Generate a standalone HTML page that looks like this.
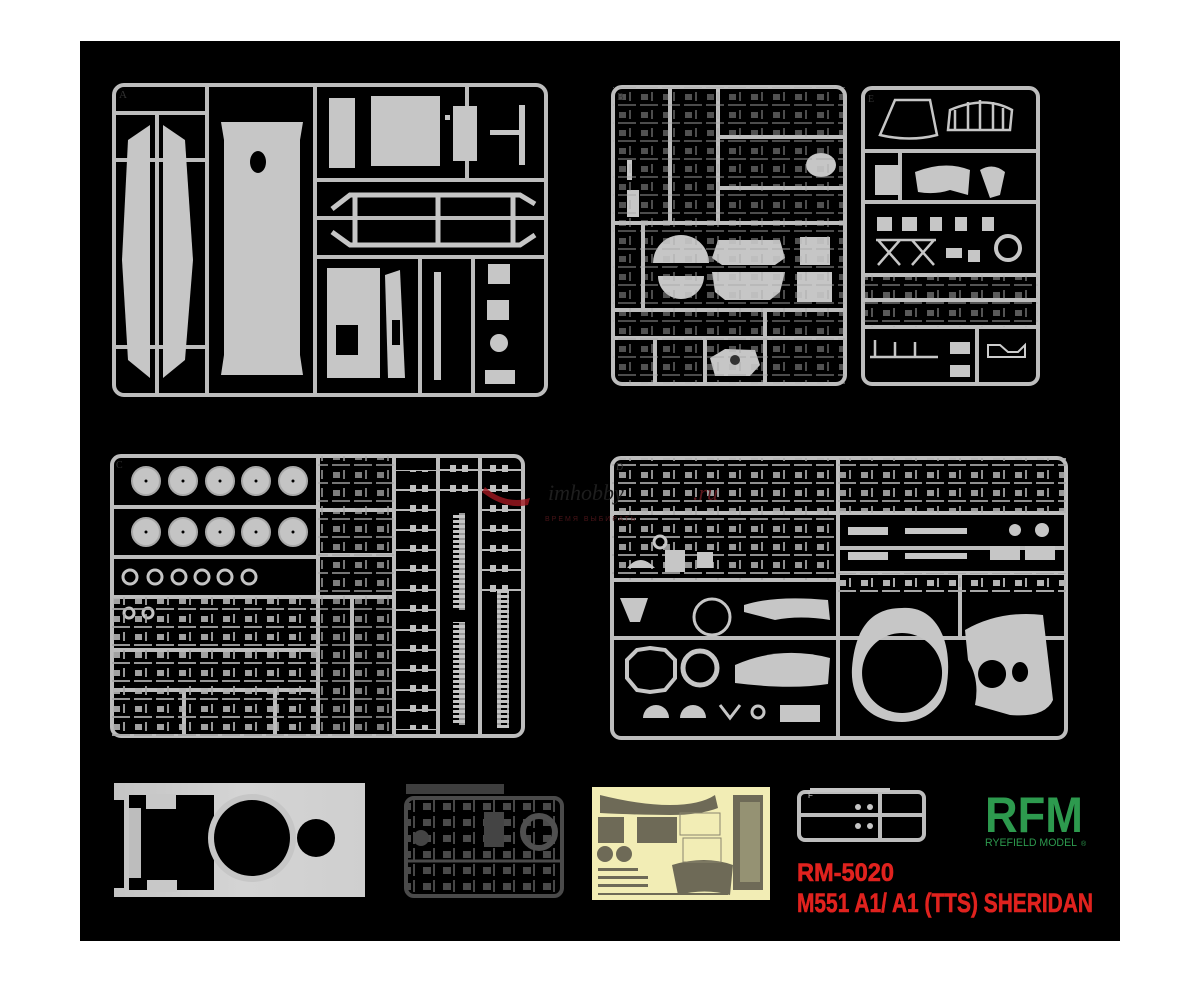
<!DOCTYPE html>
<html><head><meta charset="utf-8"><style>
html,body{margin:0;padding:0;background:#fff;}
svg{display:block;}
</style></head><body>
<svg width="1200" height="982" viewBox="0 0 1200 982" xmlns="http://www.w3.org/2000/svg">
<defs>
<pattern id="bits" width="22" height="18" patternUnits="userSpaceOnUse">
<rect x="3" y="4" width="7" height="6" fill="#b4b4b4"/><rect x="13" y="2" width="2" height="9" fill="#a8a8a8"/><rect x="2" y="14" width="18" height="2" fill="#a8a8a8"/>
</pattern>
<pattern id="ladder" width="40" height="20" patternUnits="userSpaceOnUse">
<rect x="0" y="9" width="40" height="2" fill="#b8b8b8"/><rect x="10" y="5" width="6" height="7" fill="#c0c0c0"/><rect x="22" y="5" width="6" height="7" fill="#c0c0c0"/>
</pattern>
<pattern id="track" width="12" height="5" patternUnits="userSpaceOnUse">
<rect x="0" y="0" width="12" height="3" fill="#c4c4c4"/><rect x="3" y="3" width="6" height="2" fill="#9a9a9a"/>
</pattern>
<pattern id="dbits" width="20" height="16" patternUnits="userSpaceOnUse">
<rect x="3" y="3" width="8" height="7" fill="#4a4a4a"/><rect x="13" y="0" width="2" height="12" fill="#474747"/>
</pattern>
</defs>
<rect x="80" y="41" width="1040" height="900" fill="#000"/>

<g fill="none" stroke="#bdbdbd" stroke-width="4">
<rect x="114" y="85" width="432" height="310" rx="10"/>
<line x1="207" y1="85" x2="207" y2="395"/><line x1="315" y1="85" x2="315" y2="395"/>
<line x1="315" y1="180" x2="546" y2="180"/><line x1="315" y1="257" x2="546" y2="257"/>
<line x1="420" y1="257" x2="420" y2="395"/><line x1="473" y1="257" x2="473" y2="395"/>
<line x1="467" y1="85" x2="467" y2="180"/>
<line x1="114" y1="113" x2="207" y2="113"/><line x1="114" y1="160" x2="207" y2="160"/><line x1="114" y1="347" x2="207" y2="347"/>
<line x1="157" y1="113" x2="157" y2="395"/>
<line x1="315" y1="218" x2="546" y2="218"/>
<rect x="613" y="87" width="232" height="297" rx="9"/>
<line x1="613" y1="223" x2="845" y2="223"/><line x1="613" y1="310" x2="845" y2="310"/><line x1="613" y1="338" x2="845" y2="338"/>
<line x1="670" y1="87" x2="670" y2="223"/><line x1="718" y1="87" x2="718" y2="223"/>
<line x1="718" y1="137" x2="845" y2="137"/><line x1="718" y1="188" x2="845" y2="188"/>
<line x1="643" y1="223" x2="643" y2="310"/><line x1="765" y1="310" x2="765" y2="384"/><line x1="705" y1="338" x2="705" y2="384"/>
<line x1="655" y1="338" x2="655" y2="384"/>
<rect x="863" y="88" width="175" height="296" rx="9"/>
<line x1="863" y1="151" x2="1038" y2="151"/><line x1="863" y1="202" x2="1038" y2="202"/><line x1="863" y1="275" x2="1038" y2="275"/><line x1="863" y1="327" x2="1038" y2="327"/>
<line x1="977" y1="327" x2="977" y2="384"/><line x1="900" y1="151" x2="900" y2="202"/>
<line x1="863" y1="300" x2="1038" y2="300"/>
<rect x="112" y="456" width="411" height="280" rx="9"/>
<line x1="112" y1="507" x2="318" y2="507"/><line x1="112" y1="557" x2="318" y2="557"/><line x1="112" y1="597" x2="318" y2="597"/><line x1="112" y1="650" x2="318" y2="650"/><line x1="112" y1="690" x2="318" y2="690"/>
<line x1="318" y1="456" x2="318" y2="736"/><line x1="352" y1="597" x2="352" y2="736"/><line x1="394" y1="456" x2="394" y2="736"/><line x1="438" y1="456" x2="438" y2="736"/><line x1="480" y1="456" x2="480" y2="736"/>
<line x1="318" y1="510" x2="394" y2="510"/><line x1="318" y1="555" x2="394" y2="555"/><line x1="318" y1="597" x2="394" y2="597"/>
<line x1="184" y1="690" x2="184" y2="736"/><line x1="275" y1="690" x2="275" y2="736"/>
<rect x="612" y="458" width="454" height="280" rx="9"/>
<line x1="838" y1="458" x2="838" y2="738"/>
<line x1="612" y1="513" x2="1066" y2="513"/><line x1="612" y1="580" x2="838" y2="580"/><line x1="612" y1="638" x2="1066" y2="638"/>
<line x1="838" y1="573" x2="1066" y2="573"/><line x1="960" y1="573" x2="960" y2="638"/>
<line x1="838" y1="548" x2="1066" y2="548"/>
<rect x="799" y="792" width="125" height="48" rx="6"/>
<line x1="799" y1="815" x2="924" y2="815"/><line x1="880" y1="792" x2="880" y2="840"/>
</g>

<g fill="#c6c6c6">
<polygon points="128,140 150,125 150,378 128,360 122,260"/>
<polygon points="163,125 185,140 193,260 185,360 163,378"/>
<path d="M221,122 H303 L300,140 V355 L303,375 H221 L224,355 V140 Z"/>
<rect x="329" y="98" width="26" height="70"/>
<rect x="371" y="96" width="69" height="70"/>
<rect x="453" y="106" width="24" height="55"/>
<rect x="445" y="115" width="5" height="5"/>
<rect x="327" y="268" width="53" height="110"/>
<polygon points="385,275 400,270 405,378 388,378"/>
<rect x="434" y="272" width="7" height="108"/>
<rect x="488" y="264" width="22" height="20"/><rect x="487" y="300" width="22" height="20"/>
<circle cx="499" cy="343" r="9"/><rect x="485" y="370" width="30" height="14"/>
<rect x="519" y="105" width="6" height="60"/><rect x="490" y="130" width="30" height="5"/>
</g>
<g fill="#000">
<ellipse cx="258" cy="162" rx="8" ry="11"/>
<rect x="336" y="325" width="22" height="30"/><rect x="392" y="320" width="8" height="25"/>
</g>
<g fill="none" stroke="#c6c6c6" stroke-width="5">
<path d="M332,209 L350,195 H520 L535,204"/><path d="M332,232 L350,245 H520 L535,235"/>
<line x1="355" y1="195" x2="355" y2="245"/><line x1="438" y1="195" x2="438" y2="245"/><line x1="513" y1="195" x2="513" y2="245"/>
</g>
<text x="119" y="98" font-family="Liberation Serif, serif" font-size="11" fill="#333">A</text>

<g fill="#c6c6c6">
<path d="M653,263 A28,28 0 0 1 709,263 Z"/>
<path d="M658,276 H704 A23,23 0 0 1 658,276 Z"/>
<polygon points="718,240 780,240 785,258 775,265 722,265 712,258"/>
<polygon points="712,272 785,272 780,292 770,300 725,300 715,292"/>
<rect x="800" y="237" width="30" height="28"/><rect x="797" y="272" width="35" height="30"/>
<polygon points="710,358 725,349 755,350 760,365 750,376 715,376"/>
<ellipse cx="821" cy="165" rx="15" ry="12"/>
<rect x="627" y="190" width="12" height="27"/><rect x="627" y="160" width="5" height="20"/>
</g>
<rect x="613" y="87" width="232" height="297" fill="url(#bits)" opacity="0.45"/>
<circle cx="681" cy="269" r="4" fill="#000"/><circle cx="735" cy="360" r="5" fill="#333"/>

<g fill="none" stroke="#c6c6c6" stroke-width="2.5">
<path d="M880,135 L895,100 H930 L937,135 Q910,142 880,135 Z"/>
<path d="M948,130 L950,110 Q985,95 1012,110 L1010,130 Z"/>
<path d="M955,130 V110 M968,130 V102 M980,130 V100 M993,130 V102 M1003,130 V108"/>
<path d="M878,240 L900,265 M900,240 L878,265 M912,240 L934,265 M934,240 L912,265 M876,240 H936"/>
<circle cx="1008" cy="248" r="12" stroke-width="4"/>
<path d="M870,357 H938 M875,357 V340 M895,357 V342 M915,357 V342"/>
</g>
<g fill="#c6c6c6">
<rect x="875" y="165" width="25" height="30"/>
<path d="M915,172 Q945,160 970,170 L968,195 L950,190 Q935,195 918,192 Z"/>
<path d="M980,170 Q993,162 1005,172 L1000,195 L990,198 Z"/>
<rect x="877" y="217" width="15" height="14"/><rect x="902" y="217" width="15" height="14"/><rect x="930" y="217" width="12" height="14"/><rect x="955" y="217" width="12" height="14"/>
<rect x="982" y="217" width="12" height="14"/>
<rect x="968" y="250" width="12" height="12"/><rect x="946" y="248" width="16" height="10"/>
<rect x="950" y="342" width="20" height="12"/><rect x="950" y="365" width="20" height="12"/>
</g>
<rect x="863" y="275" width="175" height="52" fill="url(#bits)" opacity="0.5"/>
<path d="M988,345 H1000 L1008,352 H1018 L1025,345 V357 H988 Z" fill="none" stroke="#ccc" stroke-width="2"/>

<g fill="#c4c4c4" stroke="#a9a9a9" stroke-width="2">
<circle cx="146" cy="481" r="14"/><circle cx="183" cy="481" r="14"/><circle cx="220" cy="481" r="14"/><circle cx="256" cy="481" r="14"/><circle cx="293" cy="481" r="14"/>
<circle cx="146" cy="532" r="14"/><circle cx="183" cy="532" r="14"/><circle cx="220" cy="532" r="14"/><circle cx="256" cy="532" r="14"/><circle cx="293" cy="532" r="14"/>
</g>
<g fill="#000"><circle cx="146" cy="481" r="1.5"/><circle cx="183" cy="481" r="1.5"/><circle cx="220" cy="481" r="1.5"/><circle cx="256" cy="481" r="1.5"/><circle cx="293" cy="481" r="1.5"/>
<circle cx="146" cy="532" r="1.5"/><circle cx="183" cy="532" r="1.5"/><circle cx="220" cy="532" r="1.5"/><circle cx="256" cy="532" r="1.5"/><circle cx="293" cy="532" r="1.5"/></g>
<g fill="none" stroke="#c4c4c4" stroke-width="3">
<circle cx="130" cy="577" r="7"/><circle cx="155" cy="577" r="7"/><circle cx="179" cy="577" r="7"/><circle cx="202" cy="577" r="7"/><circle cx="225" cy="577" r="7"/><circle cx="249" cy="577" r="7"/>
<circle cx="129" cy="613" r="5"/><circle cx="148" cy="613" r="5"/>
</g>
<rect x="112" y="597" width="206" height="139" fill="url(#bits)" opacity="0.9"/>
<rect x="318" y="456" width="76" height="280" fill="url(#bits)" opacity="0.7"/>
<rect x="394" y="470" width="44" height="260" fill="url(#ladder)"/>
<rect x="438" y="465" width="42" height="40" fill="url(#ladder)"/>
<rect x="480" y="465" width="43" height="130" fill="url(#ladder)"/>
<rect x="453" y="513" width="12" height="97" fill="url(#track)"/>
<rect x="453" y="622" width="12" height="103" fill="url(#track)"/>
<rect x="497" y="590" width="12" height="138" fill="url(#track)"/>
<text x="116" y="468" font-family="Liberation Serif, serif" font-size="10" fill="#333">C</text>

<rect x="612" y="458" width="226" height="122" fill="url(#bits)" opacity="0.85"/>
<rect x="838" y="458" width="228" height="55" fill="url(#bits)" opacity="0.85"/>
<rect x="838" y="573" width="228" height="20" fill="url(#bits)"/>
<g fill="#c6c6c6">
<rect x="848" y="527" width="40" height="8"/><rect x="905" y="528" width="62" height="6"/>
<rect x="848" y="552" width="40" height="8"/><rect x="905" y="553" width="62" height="6"/>
<rect x="990" y="546" width="30" height="14"/><rect x="1025" y="546" width="30" height="14"/>
<circle cx="1015" cy="530" r="6"/><circle cx="1042" cy="530" r="7"/>
<path d="M627,568 Q640,552 655,568 Z"/><rect x="665" y="550" width="20" height="22"/><rect x="697" y="552" width="16" height="16"/>
<path d="M620,598 H648 L640,622 H630 Z"/>
<path d="M744,605 Q775,595 828,600 L830,620 Q800,615 775,620 L744,612 Z"/>
<path d="M735,665 Q780,645 830,658 L828,684 Q790,690 735,683 Z"/>
<path d="M643,718 A13,13 0 0 1 669,718 Z"/><path d="M680,718 A13,13 0 0 1 706,718 Z"/>
<rect x="780" y="705" width="40" height="17"/>
<path fill-rule="evenodd" d="M902,608 C935,605 955,640 946,690 C940,712 920,722 902,722 C870,722 850,700 852,668 C855,630 870,608 902,608 Z M902,633 A40,40 0 1 0 902.1,633 Z"/>
<path fill-rule="evenodd" d="M965,630 Q1000,610 1043,615 L1053,700 Q1045,718 1010,715 L975,705 Q980,680 968,660 Z M992,660 A14,14 0 1 0 992.1,660 Z M1020,662 A8,10 0 1 0 1020.1,662 Z"/>
</g>
<g fill="none" stroke="#c6c6c6" stroke-width="3">
<circle cx="712" cy="617" r="18"/>
<path d="M650,648 L665,650 L675,660 L675,678 L665,690 L650,692 L637,690 L627,678 L627,660 L637,650 Z" stroke-width="4"/>
<circle cx="700" cy="668" r="17" stroke-width="5"/>
<circle cx="758" cy="712" r="6"/>
<path d="M720,705 L730,718 L740,705"/>
<circle cx="660" cy="542" r="6"/>
</g>
<text x="616" y="470" font-family="Liberation Serif, serif" font-size="10" fill="#333">D</text>
<text x="617" y="100" font-family="Liberation Serif, serif" font-size="10" fill="#333">B</text>
<text x="868" y="102" font-family="Liberation Serif, serif" font-size="10" fill="#333">E</text>

<path d="M485,487 Q505,505 530,498 L528,505 Q505,510 482,492 Z" fill="#a01820" opacity="0.8"/>
<text x="548" y="500" font-family="Liberation Serif, serif" font-style="italic" font-size="22" fill="#1e1e1e">imhobby</text>
<text x="693" y="500" font-family="Liberation Serif, serif" font-style="italic" font-size="22" fill="#5a161b">.ru</text>
<text x="545" y="521" font-family="Liberation Sans, sans-serif" font-size="7" letter-spacing="2" fill="#4a1418">ВРЕМЯ ВЫБИРАТЬ</text>

<!-- Hull -->
<defs><linearGradient id="hg" x1="0" x2="1"><stop offset="0" stop-color="#c4c4c4"/><stop offset="0.5" stop-color="#d4d4d4"/><stop offset="1" stop-color="#cfcfcf"/></linearGradient></defs>
<path d="M114,783 H365 V897 H114 Z" fill="url(#hg)"/>
<rect x="129" y="795" width="85" height="95" fill="#000"/>
<rect x="114" y="800" width="10" height="88" fill="#000"/>
<rect x="146" y="794" width="30" height="15" fill="#c8c8c8"/>
<rect x="147" y="880" width="30" height="12" fill="#c8c8c8"/>
<rect x="129" y="808" width="12" height="70" fill="#bdbdbd"/>
<circle cx="252" cy="838" r="44" fill="#c6c6c6"/>
<circle cx="252" cy="838" r="38" fill="#000"/>
<circle cx="316" cy="838" r="19" fill="#000"/>

<rect x="406" y="784" width="98" height="10" fill="#3e3e3e"/>
<rect x="406" y="798" width="156" height="98" rx="8" fill="none" stroke="#4a4a4a" stroke-width="4"/>
<line x1="406" y1="861" x2="562" y2="861" stroke="#4a4a4a" stroke-width="3"/>
<rect x="406" y="798" width="156" height="98" fill="url(#dbits)"/>
<rect x="484" y="812" width="20" height="35" fill="#444"/>
<circle cx="539" cy="832" r="16" fill="none" stroke="#505050" stroke-width="6"/>
<circle cx="421" cy="838" r="8" fill="#444"/>

<rect x="592" y="787" width="178" height="113" fill="#f2edb5"/>
<g fill="#6e6a57">
<path d="M600,795 Q640,805 670,805 Q700,805 715,795 L718,808 Q700,815 670,815 Q640,815 600,813 Z"/>
<rect x="598" y="817" width="26" height="26"/><rect x="637" y="817" width="40" height="26"/>
<rect x="733" y="795" width="30" height="95"/>
<path d="M672,865 Q705,855 733,865 L730,895 Q705,888 678,895 Z"/>
<circle cx="605" cy="854" r="8"/><circle cx="624" cy="854" r="8"/>
<rect x="598" y="868" width="40" height="3"/><rect x="598" y="876" width="50" height="3"/><rect x="598" y="884" width="50" height="3"/>
<rect x="598" y="893" width="130" height="2"/>
</g>
<rect x="680" y="813" width="40" height="22" fill="none" stroke="#8a856e" stroke-width="1"/>
<rect x="683" y="838" width="38" height="24" fill="none" stroke="#8a856e" stroke-width="1"/>
<rect x="740" y="802" width="20" height="80" fill="#f2edb5" opacity="0.3"/>

<g fill="#c6c6c6"><rect x="810" y="788" width="80" height="4"/><circle cx="858" cy="807" r="3"/><circle cx="870" cy="807" r="3"/><circle cx="858" cy="826" r="3"/><circle cx="870" cy="826" r="3"/></g>
<text x="808" y="798" font-family="Liberation Sans, sans-serif" font-size="8" fill="#ccc">F</text>

<text x="985" y="832" font-family="Liberation Sans, sans-serif" font-weight="bold" font-size="50" fill="#2d9a4e" textLength="98" lengthAdjust="spacingAndGlyphs">RFM</text>
<text x="985" y="846" font-family="Liberation Sans, sans-serif" font-size="11" fill="#2d9a4e" textLength="92" lengthAdjust="spacingAndGlyphs">RYEFIELD MODEL</text>
<text x="1081" y="846" font-family="Liberation Sans, sans-serif" font-size="7" fill="#2d9a4e">®</text>

<text x="797" y="881" font-family="Liberation Sans, sans-serif" font-weight="bold" font-size="25" fill="#e0221e" stroke="#e0221e" stroke-width="0.6" textLength="97" lengthAdjust="spacingAndGlyphs">RM-5020</text>
<text x="797" y="912" font-family="Liberation Sans, sans-serif" font-weight="bold" font-size="27" fill="#e0221e" stroke="#e0221e" stroke-width="0.6" textLength="296" lengthAdjust="spacingAndGlyphs">M551 A1/ A1 (TTS) SHERIDAN</text>
</svg>
</body></html>
